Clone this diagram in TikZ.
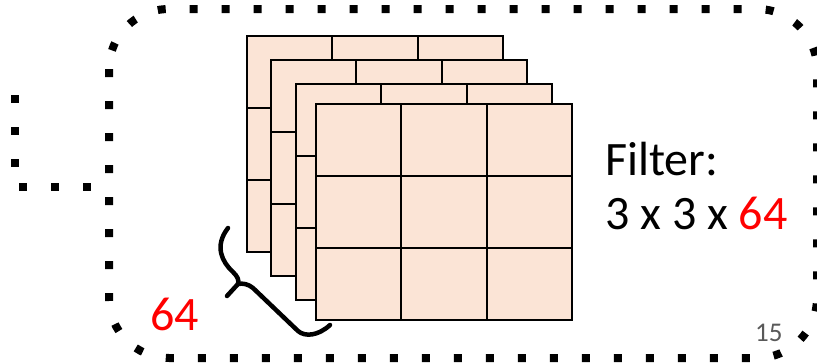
\documentclass[tikz,border=0pt]{standalone}
\usepackage{fontspec}
\setmainfont{Carlito}
\definecolor{peach}{HTML}{FBE4D6}
\definecolor{pagegray}{HTML}{595959}
\tikzset{
  dotline/.style={line width=8pt, dash pattern=on 8pt off 24pt, line cap=butt},
  cellfill/.style={fill=peach},
  gridline/.style={line width=2pt, draw=black},
  bracepath/.style={line width=4.5pt, line cap=round, line join=round},
  bigtext/.style={inner sep=0pt, font=\fontsize{48}{57}\selectfont},
}
\begin{document}
\begin{tikzpicture}[x=1pt, y=-1pt]
\useasboundingbox (0,0) rectangle (817,364);
% dotted container
\draw[dotline, rounded corners=60pt] (109,9) rectangle (817,358);
% incoming dotted connector
\coordinate (cin) at (-10,88);
\coordinate (c1) at (15,88);
\coordinate (c2) at (15,187);
\coordinate (cout) at (109,187);
\draw[dotline] (cin) -- (c1) -- (c2) -- (cout);
% filter layers
\foreach \x/\y in {247/36, 271/60, 296/84, 316/104} {
  \fill[cellfill] (\x,\y) rectangle ++(256,216);
  \draw[gridline] (\x,\y) rectangle ++(256,216);
  \foreach \i in {1,2} {
    \draw[gridline] (\x+\i*85.33,\y) -- ++(0,216);
    \draw[gridline] (\x,\y+\i*72) -- ++(256,0);
  }
}
% brace
\draw[bracepath] (228,228) .. controls (214,246) and (222,262) .. (233,272)
  .. controls (238,277) and (239,280) .. (238,284) -- (227,296);
\draw[bracepath] (238,284) .. controls (243,283) and (248,284) .. (253,288)
  -- (298,331) .. controls (305,337) and (318,336) .. (330,325);
% texts
\node[bigtext, anchor=base west, text=red] (depth) at (150,330) {64};
\node[bigtext, anchor=base west] (filt) at (605,175) {Filter:};
\node[bigtext, anchor=base west] (dims) at (605,229) {3 x 3 x \textcolor{red}{64}};
\node[inner sep=0pt, anchor=base west, text=pagegray, font=\fontsize{27}{32}\selectfont] (page) at (755,341) {15};
\end{tikzpicture}
\end{document}
